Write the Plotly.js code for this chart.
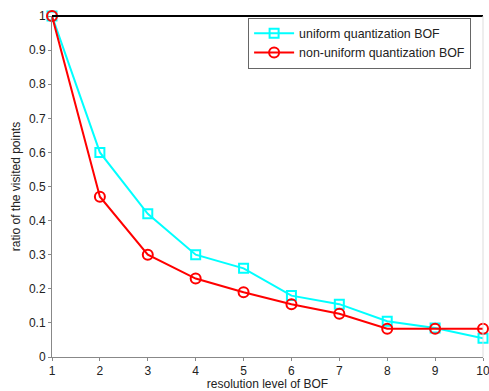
<!DOCTYPE html>
<html><head><meta charset="utf-8">
<script src="https://cdn.plot.ly/plotly-3.0.1.min.js"></script>
<style>html,body{margin:0;padding:0;background:#fff}#c{width:489px;height:391px}</style>
</head><body><div id="c"></div>
<script>
const levels = [1,2,3,4,5,6,7,8,9,10];
const uniformBOF = [1.0,0.60,0.42,0.30,0.26,0.18,0.155,0.105,0.085,0.055];
const nonUniformBOF = [1.0,0.47,0.30,0.23,0.19,0.155,0.127,0.083,0.083,0.083];
const yTicks = [0,0.1,0.2,0.3,0.4,0.5,0.6,0.7,0.8,0.9,1];
const yTickText = ['0','0.1','0.2','0.3','0.4','0.5','0.6','0.7','0.8','0.9','1'];

const traces = [
  {x: levels, y: uniformBOF, name: 'uniform quantization BOF', mode: 'lines+markers',
   line: {color: '#00ffff', width: 2}, cliponaxis: false,
   marker: {symbol: 'square-open', size: 9, color: '#00ffff', line: {width: 2, color: '#00ffff'}}},
  {x: levels, y: nonUniformBOF, name: 'non-uniform quantization BOF', mode: 'lines+markers',
   line: {color: '#ff0000', width: 2}, cliponaxis: false,
   marker: {symbol: 'circle-open', size: 10, color: '#ff0000', line: {width: 2, color: '#ff0000'}}}
];

const layout = {
  width: 489, height: 391,
  margin: {l: 52, r: 6, t: 16, b: 34},
  paper_bgcolor: '#fff', plot_bgcolor: '#fff',
  font: {family: 'Liberation Sans, Arial, sans-serif', size: 12, color: '#222'},
  showlegend: true,
  legend: {x: 0.455, y: 0.995, xanchor: 'left', yanchor: 'top', bgcolor: '#fff',
           bordercolor: '#666', borderwidth: 1, font: {size: 12.4, color: '#222'},
           itemwidth: 40, tracegroupgap: 0},
  xaxis: {range: [1, 10], tickvals: levels, ticktext: levels.map(String),
          showgrid: false, zeroline: false, showline: true, linecolor: '#888', linewidth: 1,
          ticks: 'outside', ticklen: 3, tickcolor: '#888', automargin: false,
          ticklabeloverflow: 'allow',
          title: {text: 'resolution level of BOF', standoff: 6, font: {size: 12}}},
  yaxis: {range: [0, 1], tickvals: yTicks, ticktext: yTickText,
          showgrid: false, zeroline: false, showline: true, linecolor: '#888', linewidth: 1,
          ticks: 'outside', ticklen: 3, tickcolor: '#888', automargin: false,
          title: {text: 'ratio of the visited points', standoff: 5, font: {size: 12}}},
  shapes: [
    {type: 'line', xref: 'paper', yref: 'paper', x0: 0, x1: 1, y0: 1, y1: 1,
     line: {color: '#000', width: 2}},
    {type: 'line', xref: 'paper', yref: 'paper', x0: 1, x1: 1, y0: 0, y1: 1,
     line: {color: '#ddd', width: 1}}
  ]
};
Plotly.newPlot('c', traces, layout, {displayModeBar: false, staticPlot: true});
</script></body></html>
